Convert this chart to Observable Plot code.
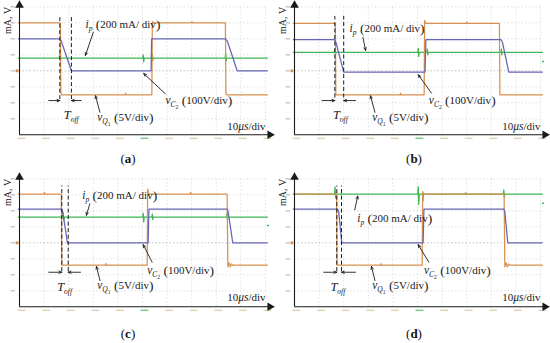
<!DOCTYPE html>
<html><head><meta charset="utf-8">
<script src="https://cdn.jsdelivr.net/npm/d3@7"></script>
<script src="https://cdn.jsdelivr.net/npm/@observablehq/plot@0.6"></script>
<style>
body{margin:0;background:#fff;}
#fig{position:relative;width:550px;height:343px;overflow:hidden;font-family:"Liberation Serif",serif;background:#fff;}
.panel{position:absolute;}
.cap{position:absolute;font-size:13px;transform:translate(-50%,-50%);color:#111;}
</style></head><body><div id="fig"></div>
<script>
// ---- ticks (divisions) ----
const xTicks = [0,1,2,3,4,5,6,7,8,9,10];
const yTicks = [1,2,3,4,5,6,7,8];

// ---- panel (a) traces [time div, value div] ----
const vQ1_a = [[-0.05,7.0],[1.66,7.0],[1.68,2.62],[1.71,2.5],[4.30,2.5],[4.31,2.6],[4.33,2.5],[5.38,2.5],[5.40,7.08],[5.45,7.0],[7.0,7.0],[7.01,7.08],[7.03,7.0],[8.37,7.0],[8.39,2.55],[8.43,2.5],[10.08,2.5]];
const vC2_a = [[-0.05,6.0],[1.62,6.0],[1.70,5.85],[2.11,4.0],[5.35,4.0],[5.37,6.0],[8.37,6.0],[8.45,5.85],[8.85,4.0],[10.08,4.0]];
const iP_a  = [[-0.05,4.8],[1.62,4.8],[1.64,5.0],[1.66,4.65],[1.68,4.8],[5.01,4.8],[5.03,5.0],[5.05,4.55],[5.07,4.8],[5.38,4.8],[5.40,5.05],[5.42,4.65],[5.44,4.8],[8.36,4.8],[8.38,5.1],[8.40,4.6],[8.42,4.8],[10.08,4.8]];
const toff_a = [1.64, 2.11];

// ---- panel (b) ----
const vQ1_b = [[-0.05,6.97],[1.66,6.97],[1.68,2.5],[4.30,2.5],[4.31,2.6],[4.33,2.5],[5.27,2.5],[5.29,7.15],[5.33,6.97],[7.0,6.97],[7.01,7.05],[7.03,6.97],[8.33,6.97],[8.35,2.5],[10.08,2.5]];
const vC2_b = [[-0.05,5.95],[1.62,5.95],[1.68,5.8],[2.0,3.92],[5.31,3.92],[5.34,5.95],[8.39,5.95],[8.45,5.8],[8.71,3.92],[10.08,3.92]];
const iP_b  = [[-0.05,5.15],[1.62,5.15],[1.64,5.35],[1.66,5.0],[1.68,5.15],[5.01,5.15],[5.03,5.4],[5.05,4.9],[5.07,5.15],[5.38,5.15],[5.40,5.35],[5.42,5.0],[5.44,5.15],[8.39,5.15],[8.41,5.35],[8.43,5.0],[8.45,5.15],[10.08,5.15]];
const toff_b = [1.64, 2.0];

// ---- panel (c) ----
const vQ1_c = [[-0.05,7.05],[1.0,7.05],[1.01,7.15],[1.03,7.05],[1.70,7.05],[1.72,2.6],[3.5,2.6],[3.51,2.7],[3.53,2.6],[5.19,2.6],[5.21,7.35],[5.25,7.05],[6.95,7.05],[6.96,7.15],[6.98,7.05],[8.44,7.05],[8.47,2.5],[8.52,2.75],[8.57,2.5],[8.62,2.68],[8.67,2.6],[10.08,2.6]];
const vC2_c = [[-0.05,6.1],[1.72,6.1],[1.76,5.9],[1.95,4.0],[5.23,4.0],[5.26,6.1],[8.44,6.1],[8.48,5.95],[8.67,4.0],[10.08,4.0]];
const iP_c  = [[-0.05,5.6],[1.76,5.6],[1.78,5.85],[1.80,5.4],[1.82,5.6],[5.01,5.6],[5.03,5.85],[5.05,5.3],[5.07,5.6],[5.38,5.6],[5.40,5.8],[5.42,5.45],[5.44,5.6],[8.42,5.6],[8.44,5.85],[8.46,5.45],[8.48,5.6],[10.08,5.6]];
const toff_c = [1.72, 1.98];

// ---- panel (d) ----
const vQ1_d = [[-0.05,7.05],[1.71,7.05],[1.73,2.6],[3.5,2.6],[3.51,2.7],[3.53,2.6],[5.19,2.6],[5.21,7.2],[5.25,7.05],[6.95,7.05],[6.96,7.15],[6.98,7.05],[8.52,7.05],[8.55,2.5],[8.6,2.75],[8.65,2.5],[8.7,2.68],[8.75,2.6],[10.08,2.6]];
const vC2_d = [[-0.05,6.1],[1.76,6.1],[1.80,5.9],[1.92,4.0],[5.23,4.0],[5.26,6.1],[8.51,6.1],[8.55,5.95],[8.67,4.0],[10.08,4.0]];
const iP_d  = [[-0.05,7.05],[1.63,7.05],[1.65,7.5],[1.67,6.8],[1.69,7.05],[5.01,7.05],[5.03,7.5],[5.05,6.4],[5.07,7.05],[5.20,7.05],[5.22,6.6],[5.24,7.05],[8.49,7.05],[8.51,7.3],[8.53,6.85],[8.55,7.05],[10.08,7.05]];
const toff_d = [1.72, 1.91];

// ---- text ----
const IP_LABEL   = [["i","it"],["p","sub"],[" (","paren"],["200 mA/ div","rm"],[")","paren"]];
const VC2_LABEL  = [["v","it"],["C","sub"],["2","subsub"],[" (","paren"],["100V/div","rm"],[")","paren"]];
const VQ1_LABEL  = [["v","it"],["Q","sub"],["1","subsub"],[" (","paren"],["5V/div","rm"],[")","paren"]];
const TOFF_LABEL = [["T","itbig"],["off","sub"]];
const TIME_LABEL = [["10","rm"],["\u03BCs","it"],["/div","rm"]];
const Y_LABEL = "mA, V";
const CAPTIONS = ["a","b","c","d"];

// ---- layout (annotation anchors in divisions, panel placement in px) ----
const LAYOUT = {
  a:{left:0,top:0,cap:[128,159],
     ip:[2.68,6.89], ipA:[3.0,6.41,2.68,4.96],
     vc:[5.93,2.14], vcA:[5.93,2.56,5.05,3.83],
     vq:[3.16,1.06], vqA:[3.27,1.41,3.09,2.44],
     T:[1.80,1.2], tA:[2.14,1.19,2.51], dash:[2.2,7.4], time:0.52, mark:null},
  b:{left:275,top:0,cap:[414,159],
     ip:[2.24,6.62], ipA:[2.78,6.1,2.89,5.27],
     vc:[5.46,2.14], vcA:[5.57,2.6,5.03,3.75],
     vq:[3.16,1.06], vqA:[3.27,1.41,3.09,2.44],
     T:[1.56,1.2], tA:[2.14,1.12,2.48], dash:[2.3,7.4], time:0.52, mark:4.58},
  c:{left:0,top:172,cap:[128,334],
     ip:[2.55,6.96], ipA:[2.86,6.44,2.72,5.72],
     vc:[5.19,2.27], vcA:[5.39,2.79,5.03,3.88],
     vq:[3.16,1.33], vqA:[3.27,1.64,3.13,2.52],
     T:[1.53,1.23], tA:[2.16,1.19,2.48], dash:[2.2,7.55], time:0.6, mark:5.08},
  d:{left:275,top:172,cap:[414,334],
     ip:[2.55,5.5], ipA:[2.45,6.06,2.57,6.92],
     vc:[5.26,2.27], vcA:[5.46,2.79,5.03,3.88],
     vq:[3.16,1.33], vqA:[3.27,1.64,3.13,2.52],
     T:[1.46,1.23], tA:[2.16,1.19,2.48], dash:[2.2,7.55], time:0.6, mark:6.47}
};
const TRACES = {
  a:{vq:vQ1_a, vc:vC2_a, ip:iP_a, toff:toff_a},
  b:{vq:vQ1_b, vc:vC2_b, ip:iP_b, toff:toff_b},
  c:{vq:vQ1_c, vc:vC2_c, ip:iP_c, toff:toff_c},
  d:{vq:vQ1_d, vc:vC2_d, ip:iP_d, toff:toff_d}
};

const ORANGE = "#d9914f", BLUE = "#6666b8", GREEN = "#3cb853", INK = "#1a1a1a";
const FONT = "Liberation Serif";
const STY = {
  it:{size:11.5,italic:true,shift:0}, itbig:{size:12.5,italic:true,shift:0},
  rm:{size:11,italic:false,shift:0},
  sub:{size:7.5,italic:true,shift:3}, subsub:{size:5.5,italic:false,shift:5},
  paren:{size:13.5,italic:false,shift:0.6}
};
const plain = parts => parts.map(p => p[0]).join("");
const RICH = new Map([IP_LABEL,VC2_LABEL,VQ1_LABEL,TOFF_LABEL,TIME_LABEL].map(p => [plain(p), p]));

function enrich(svg){
  svg.querySelectorAll("text").forEach(t => {
    const parts = RICH.get(t.textContent);
    if (!parts) return;
    t.textContent = "";
    let cur = 0;
    for (const [s, st] of parts) {
      const S = STY[st];
      const ts = document.createElementNS("http://www.w3.org/2000/svg","tspan");
      ts.textContent = s;
      ts.setAttribute("font-size", S.size);
      ts.setAttribute("font-style", S.italic ? "italic" : "normal");
      const dy = S.shift - cur;
      if (dy) ts.setAttribute("dy", dy);
      cur = S.shift;
      t.appendChild(ts);
    }
  });
}

function label(pos, parts){
  return Plot.text([0], {x: () => pos[0], y: () => pos[1], text: () => plain(parts),
    textAnchor: "start", fill: INK, fontFamily: FONT, fontSize: 11});
}
function arrow(a){
  return Plot.arrow([a], {x1: d => d[0], y1: d => d[1], x2: d => d[2], y2: d => d[3],
    stroke: INK, strokeWidth: 0.9, headLength: 5, headAngle: 45});
}

function panel(id){
  const L = LAYOUT[id], T = TRACES[id];
  const line = (data, color) => Plot.line(data, {x: d => d[0], y: d => d[1], stroke: color, strokeWidth: 1.25});
  const marks = [
    Plot.ruleX(xTicks.slice(1), {y1: 0, y2: 8, stroke: "#d4d4d4", strokeWidth: 0.7, strokeDasharray: "1.5,2"}),
    Plot.ruleY(yTicks, {x1: 0, x2: 10, stroke: d => d === 4 ? "#a8a8a8" : "#d4d4d4", strokeWidth: 0.7, strokeDasharray: "1.5,2"}),
    // small tick stubs
    Plot.ruleY(yTicks, {x1: -0.34, x2: -0.16, stroke: "#c4c4c4", strokeWidth: 1.4}),
    Plot.ruleY(xTicks, {y: -0.22, x1: d => d - 0.06, x2: d => d + 0.26, stroke: d => d === 5 ? "#7cc98a" : "#e3d2ba", strokeWidth: 1.5}),
    line(T.ip, GREEN), line(T.vq, ORANGE), line(T.vc, BLUE),
    // axes
    Plot.ruleX([0], {y1: 0, y2: 8.05, stroke: INK, strokeWidth: 1.1}),
    Plot.ruleY([0], {x1: 0, x2: 10.15, stroke: INK, strokeWidth: 1.1}),
    Plot.dot([0], {x: 0, y: 8.1, symbol: "triangle", r: 3.2, fill: INK}),
    Plot.dot([0], {x: 10.18, y: 0, symbol: "triangle", r: 3.2, fill: INK, rotate: 90}),
    Plot.dot([4], {x: -0.1, y: d => d, symbol: "square", r: 1.6, fill: ORANGE}),
    // T_off markers
    Plot.ruleX(T.toff, {y1: L.dash[0], y2: L.dash[1], stroke: INK, strokeWidth: 1, strokeDasharray: "4,2.5"}),
    arrow([L.tA[1], L.tA[0], T.toff[0], L.tA[0]]),
    arrow([L.tA[2], L.tA[0], T.toff[1], L.tA[0]]),
    arrow(L.ipA), arrow(L.vcA), arrow(L.vqA),
    label(L.ip, IP_LABEL), label(L.vc, VC2_LABEL), label(L.vq, VQ1_LABEL), label(L.T, TOFF_LABEL),
    Plot.text([0], {x: () => 10.0, y: () => L.time, text: () => plain(TIME_LABEL), textAnchor: "end", fill: INK, fontFamily: FONT, fontSize: 11}),
    Plot.text([Y_LABEL], {x: () => -0.46, y: () => 7.15, text: d => d, rotate: -90, fill: INK, fontFamily: FONT, fontSize: 10})
  ];
  if (L.mark !== null) marks.push(Plot.ruleY([L.mark], {x1: 10.08, x2: 10.16, stroke: GREEN, strokeWidth: 1.5}));
  const svg = Plot.plot({
    width: 275, height: 145,
    marginLeft: 19, marginRight: 10, marginTop: 6.3, marginBottom: 10.7,
    x: {domain: [0, 10], axis: null},
    y: {domain: [0, 8], axis: null},
    style: {background: "transparent", overflow: "visible"},
    marks
  });
  enrich(svg);
  const wrap = document.createElement("div");
  wrap.className = "panel";
  wrap.style.left = L.left + "px";
  wrap.style.top = L.top + "px";
  wrap.appendChild(svg);
  return wrap;
}

const fig = document.getElementById("fig");
for (const id of CAPTIONS) {
  fig.appendChild(panel(id));
  const c = document.createElement("div");
  c.className = "cap";
  c.style.left = LAYOUT[id].cap[0] + "px";
  c.style.top = LAYOUT[id].cap[1] + "px";
  c.innerHTML = "(<b>" + id + "</b>)";
  fig.appendChild(c);
}
</script></body></html>
